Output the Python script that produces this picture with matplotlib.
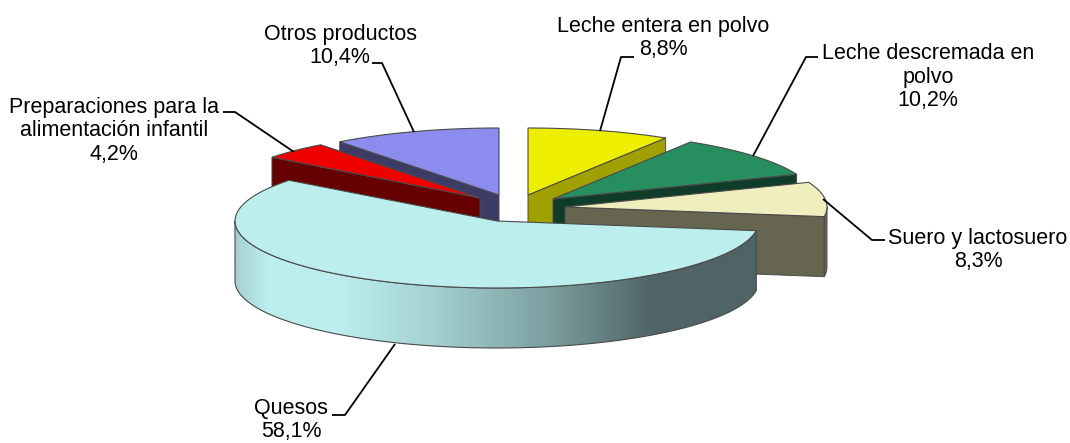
import numpy as np
import matplotlib
matplotlib.use('Agg')
import matplotlib.pyplot as plt
from matplotlib.patches import Polygon
from matplotlib.colors import LinearSegmentedColormap

plt.rcParams['font.family'] = ['Liberation Sans', 'DejaVu Sans']

#Values in clockwise order, starting at 12 o'clock
nombres = ['Leche entera en polvo', 'Leche descremada en\npolvo', 'Suero y lactosuero',
           'Quesos', 'Preparaciones para la\nalimentación infantil', 'Otros productos']
valores = [8.8, 10.2, 8.3, 58.1, 4.2, 10.4]
etiquetas = ['8,8%', '10,2%', '8,3%', '58,1%', '4,2%', '10,4%']

color_top = ['#EEEE00', '#278E60', '#EEEEBF', '#BCEEEE', '#EE0000', '#8C8CEE']
color_wall = ['#A0A000', '#0F3D29', '#666650', '#BCEEEE', '#660000', '#3C3C66']

#Apex of each exploded slice, in pixels
apex = [(528, 195), (553, 199), (565, 207), (497, 221), (480, 198), (499, 195)]
label_pos = [(663, 38), (928, 77), (978, 250), (291, 420), (114, 131), (340, 46)]
leaders = [[(600, 131), (621, 57), (634, 57)],
           [(753, 156), (806, 57), (818, 57)],
           [(823, 199), (872, 240), (885, 240)],
           [(395, 344), (345, 415), (332, 415)],
           [(294, 152), (235, 112), (223, 112)],
           [(414, 132), (382, 63), (372, 63)]]

RX, RY, DEPTH = 262, 67, 60
EDGE = '#4a4a4a'

def rim(cx, cy, a0, a1, n=80):
    #Angles in degrees, clockwise from the top of the ellipse
    t = np.radians(np.linspace(a0, a1, n))
    return np.column_stack([cx + RX*np.sin(t), cy - RY*np.cos(t)])

fig = plt.figure(figsize=(10.7, 4.43), dpi=100)
ax = fig.add_axes([0, 0, 1, 1])

bordes = np.concatenate([[0], np.cumsum(valores)]) * 3.6

#Draw the back slices first so the front ones cover them
for i in [5, 0, 4, 1, 2, 3]:
    cx, cy = apex[i]
    a0, a1 = bordes[i], bordes[i+1]
    down = np.array([0, DEPTH])

    #Cut faces that look towards the viewer
    if a1 < 180:
        p = rim(cx, cy, a1, a1, 1)[0]
        ax.add_patch(Polygon([(cx, cy), p, p+down, (cx+0, cy+DEPTH)], fc=color_wall[i], ec=EDGE, lw=0.7))
    if a0 > 180:
        p = rim(cx, cy, a0, a0, 1)[0]
        ax.add_patch(Polygon([(cx, cy), p, p+down, (cx+0, cy+DEPTH)], fc=color_wall[i], ec=EDGE, lw=0.7))

    #Outer wall, only the part on the front of the ellipse
    b0, b1 = max(a0, 90), min(a1, 270)
    if b0 < b1:
        arc = rim(cx, cy, b0, b1)
        wall = np.vstack([arc, (arc+down)[::-1]])
        if i == 3:
            pared = Polygon(wall, fc='none', ec=EDGE, lw=0.8, zorder=2)
            cmap = LinearSegmentedColormap.from_list('queso', [
                (0.0, '#A6D2D3'), (0.06, '#BCEEEE'), (0.2, '#BCEEEE'), (0.38, '#A4D0D0'),
                (0.6, '#7C9FA0'), (0.8, '#506466'), (1.0, '#506466')])
            grad = np.linspace(0, 1, 400).reshape(1, -1)
            im = ax.imshow(grad, cmap=cmap, aspect='auto', zorder=1.5,
                           extent=[arc[:, 0].min(), arc[:, 0].max(), 443, 0])
            ax.add_patch(pared)
            im.set_clip_path(pared)
        else:
            ax.add_patch(Polygon(wall, fc=color_wall[i], ec=EDGE, lw=0.7))

    top = np.vstack([[(cx, cy)], rim(cx, cy, a0, a1)])
    ax.add_patch(Polygon(top, fc=color_top[i], ec=EDGE, lw=0.8, zorder=3 if i == 3 else 1))

for i, nombre in enumerate(nombres):
    ax.text(label_pos[i][0], label_pos[i][1], nombre + '\n' + etiquetas[i], ha='center', va='center',
            fontsize=15.5, linespacing=1.16, color='black', zorder=5)
    xs, ys = zip(*leaders[i])
    ax.plot(xs, ys, color='black', lw=1.3, zorder=4, solid_capstyle='butt')

ax.set_xlim(0, 1070)
ax.set_ylim(443, 0)
ax.axis('off')
fig.savefig('out.png', dpi=100)
